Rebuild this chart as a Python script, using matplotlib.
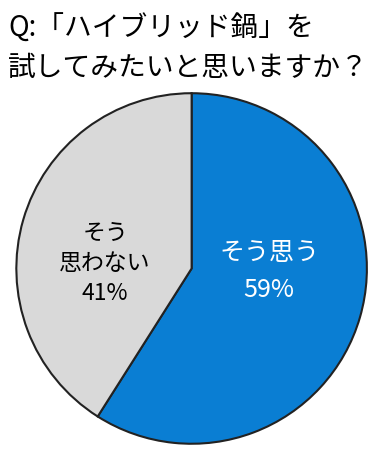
import matplotlib
matplotlib.use("Agg")
import matplotlib.pyplot as plt

plt.rcParams['font.family'] = ['Noto Sans CJK JP', 'DejaVu Sans']

labels = ["そう思う\n59%", "そう\n思わない\n41%"]
values = [59, 41]
colors = ["#0A7ED3", "#D9D9D9"]
text_colors = ["white", "black"]

fig = plt.figure(figsize=(3.84, 4.57), dpi=100)
fig.text(0.022, 0.895, "Q:「ハイブリッド鍋」を\n試してみたいと思いますか？",
         fontsize=20, va="center", ha="left", linespacing=1.4)

ax = fig.add_axes([0.038, 0.025, 0.922, 0.775])
wedges, _ = ax.pie(values, colors=colors, startangle=90, counterclock=False,
                   wedgeprops=dict(edgecolor="#222222", linewidth=1.5))
ax.set_xlim(-1.01, 1.01)
ax.set_ylim(-1.01, 1.01)
ax.set_aspect("equal")

# label positions (data coords of unit pie)
ax.text(0.443, -0.02, labels[0], color=text_colors[0], fontsize=18,
        ha="center", va="center", linespacing=1.55)
ax.text(-0.494, 0.03, labels[1], color=text_colors[1], fontsize=16.5,
        ha="center", va="center", linespacing=1.4)

fig.savefig("out.png", dpi=100)
